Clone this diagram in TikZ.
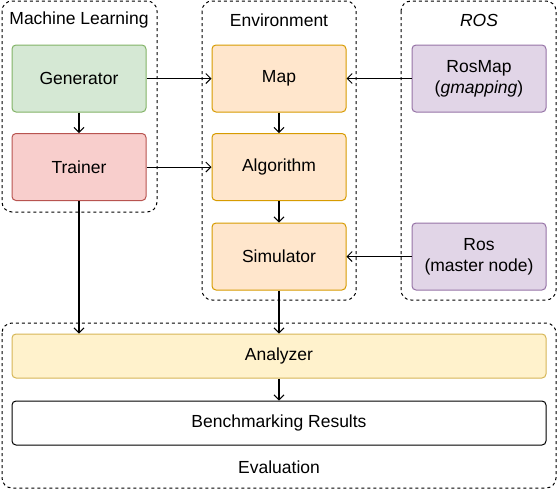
\documentclass[tikz,border=0pt]{standalone}
\usepackage{fontspec}
\setmainfont{Liberation Sans}
\usetikzlibrary{arrows.meta}

\definecolor{genfill}{HTML}{D5E8D4}
\definecolor{genline}{HTML}{82B366}
\definecolor{trainfill}{HTML}{F8CECC}
\definecolor{trainline}{HTML}{B85450}
\definecolor{envfill}{HTML}{FFE6CC}
\definecolor{envline}{HTML}{D79B00}
\definecolor{rosfill}{HTML}{E1D5E7}
\definecolor{rosline}{HTML}{9673A6}
\definecolor{anafill}{HTML}{FFF2CC}
\definecolor{analine}{HTML}{D6B656}

\begin{document}
\begin{tikzpicture}[x = 1pt, y = -1pt,
  every node/.style = {font = \fontsize{17.5}{21}\selectfont},
  box/.style = {draw, rounded corners = 4pt, line width = 1pt,
    minimum width = 134pt, minimum height = 67pt, align = center, inner sep = 0pt},
  wide/.style = {box, minimum width = 534pt, minimum height = 44pt},
  group/.style = {draw, dashed, dash pattern = on 3pt off 3pt, rounded corners = 10pt, line width = 1pt},
  link/.style = {-{Straight Barb[length = 5pt, width = 10pt, line width = 1pt]}, line width = 1pt},
  flow/.style = {-{Straight Barb[length = 5pt, width = 10pt, line width = 1pt]}, line width = 2pt}]
\useasboundingbox (0, 0) rectangle (558, 490);

% groups
\draw[group] (2, 1) rectangle (157, 212);
\draw[group] (202, 1) rectangle (356, 300);
\draw[group] (401, 1) rectangle (556, 300);
\draw[group] (2, 323) rectangle (556, 488);
\node (mltitle) at (79, 20) {Machine Learning};
\node (envtitle) at (279, 20) {Environment};
\node (rostitle) at (479, 20) {\itshape ROS};
\node (evaltitle) at (279, 467) {Evaluation};

% blocks
\node[box, fill = genfill, draw = genline] (gen) at (79, 78.5) {Generator};
\node[box, fill = trainfill, draw = trainline] (train) at (79, 167) {Trainer};
\node[box, fill = envfill, draw = envline] (map) at (279, 78.5) {Map};
\node[box, fill = envfill, draw = envline] (algo) at (279, 167) {Algorithm};
\node[box, fill = envfill, draw = envline] (sim) at (279, 256.5) {Simulator};
\node[box, fill = rosfill, draw = rosline] (rosmap) at (479, 78.5) {RosMap\\(\textit{gmapping})};
\node[box, fill = rosfill, draw = rosline] (ros) at (479, 256.5) {Ros\\(master node)};
\node[wide, fill = anafill, draw = analine] (ana) at (279, 356) {Analyzer};
\node[wide, fill = white] (bench) at (279, 423) {Benchmarking Results};

% connections
\draw[link] (gen) -- (map);
\draw[link] (train) -- (algo);
\draw[link] (rosmap) -- (map);
\draw[link] (ros) -- (sim);
\draw[flow] (gen) -- (train);
\draw[flow] (map) -- (algo);
\draw[flow] (algo) -- (sim);
\draw[flow] (train.south) -- (train.south |- ana.north);
\draw[flow] (sim) -- (ana);
\draw[flow] (ana) -- (bench);
\end{tikzpicture}
\end{document}
